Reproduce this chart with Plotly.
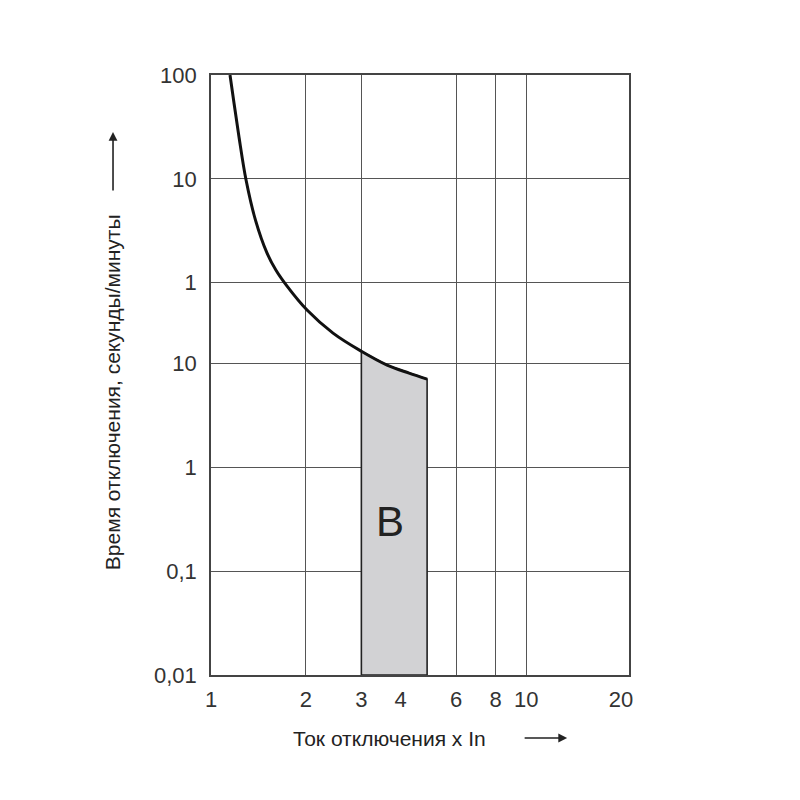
import math
import plotly.graph_objects as go

# Data (x: multiples of In, y: seconds)
curve_x = [1.149, 1.183, 1.227, 1.292, 1.384, 1.505, 1.608, 1.743, 2.017, 2.439, 3.0, 3.62, 4.25, 4.85]
curve_y = [6000, 3222, 1517, 584, 240, 116, 79, 55.6, 32.7, 19.6, 13.1, 9.64, 8.07, 7.06]
band_left = 3.0
band_right = 4.85
band_bottom = 0.01

x_tickvals = [1, 2, 3, 4, 6, 8, 10, 20]
x_ticktext = ["1", "2", "3", "4", "6", "8", "10", "20"]
x_gridvals = [2, 3, 6, 8, 10]
y_tickvals = [0.01, 0.1, 1, 10, 60, 600, 6000]
y_ticktext = ["0,01", "0,1", "1", "10", "1", "10", "100"]
x_max = 21.2
y_min, y_max = 0.01, 6000
band_label = "B"
band_label_pos = (3.7, 0.3)

# shaded band polygon from the curve
top_x = [x for x in curve_x if x >= band_left]
top_y = [y for x, y in zip(curve_x, curve_y) if x >= band_left]
poly_x = [band_left] + top_x + [band_right, band_left]
poly_y = [band_bottom] + top_y + [band_bottom, band_bottom]

fig = go.Figure()
fig.add_trace(go.Scatter(x=poly_x, y=poly_y, mode="lines", fill="toself",
                         fillcolor="#d2d2d4", line=dict(color="#222222", width=1.6),
                         hoverinfo="skip", showlegend=False))
fig.add_trace(go.Scatter(x=curve_x, y=curve_y, mode="lines", line_shape="spline",
                         line=dict(color="#111111", width=3, smoothing=1.0),
                         showlegend=False))
# invisible trace for grid axis
fig.add_trace(go.Scatter(x=[1], y=[1], xaxis="x2", mode="markers",
                         marker=dict(opacity=0), showlegend=False, hoverinfo="skip"))

tickfont = dict(family="Liberation Sans, Arial, sans-serif", size=22, color="#333333")
titlefont = dict(family="Liberation Sans, Arial, sans-serif", size=21, color="#222222")

fig.update_layout(
    width=800, height=800,
    margin=dict(l=203, r=179, t=67, b=133),
    paper_bgcolor="white", plot_bgcolor="white",
    xaxis=dict(type="log", range=[0, math.log10(x_max)], tickvals=x_tickvals,
               ticktext=x_ticktext, showgrid=False, zeroline=False,
               showline=True, mirror=True, linecolor="#444444", linewidth=1.6,
               ticks="", tickfont=tickfont, ticklabelstandoff=4),
    xaxis2=dict(type="log", range=[0, math.log10(x_max)], overlaying="x",
                tickvals=x_gridvals, showticklabels=False, showgrid=True,
                gridcolor="#555555", gridwidth=1.4, ticks="", zeroline=False),
    yaxis=dict(type="log", range=[math.log10(y_min), math.log10(y_max)],
               tickvals=y_tickvals, ticktext=y_ticktext, showgrid=True,
               gridcolor="#555555", gridwidth=1.4, zeroline=False,
               showline=True, mirror=True, linecolor="#444444", linewidth=1.6,
               ticks="", tickfont=tickfont, ticklabelstandoff=8),
    annotations=[
        dict(text=band_label, x=math.log10(band_label_pos[0]), y=math.log10(band_label_pos[1]),
             xref="x", yref="y", showarrow=False,
             font=dict(family="Liberation Sans, Arial, sans-serif", size=42, color="#222222")),
        dict(text="Время отключения, секунды/минуты", textangle=-90,
             x=-0.236, y=0.472, xref="paper", yref="paper", showarrow=False,
             xanchor="center", yanchor="middle", font=titlefont),
        dict(text="", x=-0.2344, y=0.905, xref="paper", yref="paper",
             showarrow=True, ax=0, ay=60, arrowhead=2, arrowsize=1.1, arrowwidth=1.6,
             arrowcolor="#222222"),
        dict(text="Ток отключения x In", x=0.426, y=-0.105, xref="paper", yref="paper",
             showarrow=False, xanchor="center", yanchor="middle", font=titlefont),
        dict(text="", x=0.852, y=-0.105, xref="paper", yref="paper",
             showarrow=True, ax=-44, ay=0, arrowhead=2, arrowsize=1.1, arrowwidth=1.6,
             arrowcolor="#222222"),
    ],
)

fig.write_html("out.html")
